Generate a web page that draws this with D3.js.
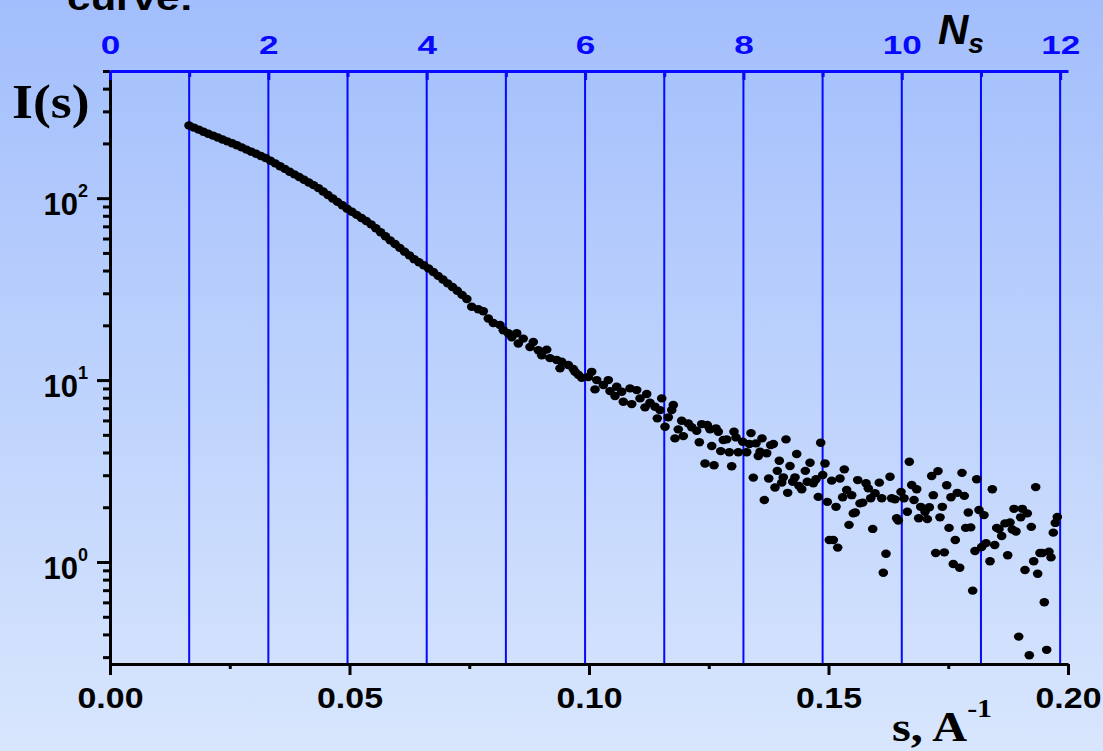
<!DOCTYPE html>
<html><head><meta charset="utf-8">
<script src="https://cdn.jsdelivr.net/npm/d3@7"></script>
<style>html,body{margin:0;padding:0;overflow:hidden;background:#c0d4fc;} svg{display:block;}</style>
</head><body>
<svg id="chart" width="1103" height="751"></svg>
<script>
// ---- data ----
const lowAngleS = [0.0165,0.0175,0.0185,0.0195,0.0205,0.0215,0.0225,0.0235,0.0245,0.0255,0.0265,0.0275,0.0285,0.0295,0.0305,0.0315,0.0325,0.0335,0.0345,0.0355,0.0365,0.0375,0.0385,0.0395,0.0405,0.0415,0.0425,0.0435,0.0445,0.0455,0.0465,0.0475,0.0485,0.0495,0.0505,0.0515,0.0525,0.0535,0.0545,0.0555,0.0565,0.0575,0.0585,0.0595,0.0605,0.0615,0.0625,0.0635,0.0645,0.0655,0.0665,0.0675,0.0685,0.0695,0.0705,0.0715,0.0725,0.0735,0.0745];
const lowAngleI = [250.9,244.3,238.2,231.9,226.1,220.8,215.6,210.2,205.2,200.3,195.3,190.2,184.9,180.1,175.4,170.6,166.1,160.7,155.3,149.9,144.9,139.8,135.1,130.6,126.2,122.0,117.9,113.6,108.7,104.1,99.6,95.4,91.4,87.5,84.2,80.9,77.8,74.9,71.8,68.3,64.9,61.8,58.6,56.0,53.3,50.8,48.5,46.2,44.4,42.8,41.1,39.3,37.4,35.7,34.0,32.5,31.0,29.4,27.9];

const highAngleS = [0.07551,0.07689,0.07793,0.07898,0.08002,0.08142,0.08211,0.08315,0.08386,0.08491,0.08524,0.08628,0.08768,0.08837,0.08942,0.09013,0.09117,0.09186,0.09326,0.09395,0.09430,0.09568,0.09672,0.09708,0.09777,0.09848,0.09985,0.10056,0.10125,0.10161,0.10299,0.10403,0.10438,0.10543,0.10578,0.10683,0.10716,0.10856,0.10892,0.10996,0.11065,0.11169,0.11205,0.11273,0.11378,0.11426,0.11482,0.11518,0.11587,0.11656,0.11727,0.11760,0.11795,0.11864,0.11935,0.11969,0.12073,0.12144,0.12248,0.12303,0.12353,0.12422,0.12470,0.12526,0.12562,0.12610,0.12651,0.12699,0.12750,0.12804,0.12875,0.12929,0.12979,0.13027,0.13069,0.13117,0.13209,0.13292,0.13347,0.13382,0.13430,0.13486,0.13534,0.13570,0.13612,0.13660,0.13710,0.13752,0.13793,0.13848,0.13883,0.13931,0.13973,0.14023,0.14056,0.14113,0.14148,0.14196,0.14253,0.14301,0.14336,0.14384,0.14441,0.14516,0.14558,0.14614,0.14683,0.14739,0.14787,0.14837,0.14879,0.14927,0.14975,0.15017,0.15100,0.15067,0.15157,0.15192,0.15240,0.15296,0.15330,0.15380,0.15428,0.15484,0.15518,0.15559,0.15610,0.15658,0.15714,0.15783,0.15831,0.15881,0.15923,0.15971,0.16061,0.16111,0.16144,0.16200,0.16284,0.16319,0.16388,0.16424,0.16457,0.16514,0.16576,0.16645,0.16687,0.16737,0.16785,0.16841,0.16883,0.16925,0.17015,0.17063,0.17104,0.17154,0.17188,0.17238,0.17286,0.17328,0.17376,0.17418,0.17468,0.17516,0.17557,0.17605,0.17647,0.17689,0.17739,0.17787,0.17835,0.17864,0.17919,0.17969,0.18010,0.18058,0.18094,0.18142,0.18198,0.18246,0.18288,0.18372,0.18420,0.18470,0.18511,0.18559,0.18616,0.18685,0.18741,0.18789,0.18837,0.18873,0.18914,0.18971,0.19013,0.19046,0.19102,0.19150,0.19192,0.19234,0.19284,0.19326,0.19367,0.19415,0.19463,0.19505,0.19555,0.19603,0.19645,0.19693,0.19735,0.19777];
const highAngleI = [25.3,24.5,23.9,21.8,20.6,20.1,18.8,18.1,17.2,18.1,15.9,16.9,15.2,16.2,14.6,13.7,14.7,13.2,12.9,11.6,12.6,12.1,11.5,11.1,10.7,10.3,10.4,11.1,8.89,10.0,9.39,10.0,8.70,8.17,9.19,8.62,7.60,9.00,7.38,8.81,7.93,7.08,8.38,7.50,7.13,6.16,6.84,7.93,5.54,6.24,6.84,7.29,4.78,5.36,5.98,4.92,5.78,5.50,5.27,4.55,5.73,3.48,5.66,5.36,4.34,3.40,5.43,5.20,4.07,4.68,4.72,4.01,3.36,5.20,4.84,4.01,4.58,4.01,4.45,5.11,2.91,4.49,3.82,4.04,4.78,2.19,3.96,2.88,4.39,4.45,2.57,3.17,3.60,2.73,2.92,4.72,2.40,3.37,2.76,2.92,3.92,2.62,2.51,3.17,2.76,3.51,2.71,2.85,2.28,4.52,3.01,3.48,2.14,1.32,1.32,2.80,2.01,1.20,2.88,2.27,3.23,2.49,1.60,2.33,1.85,1.87,2.82,2.10,2.12,2.71,2.54,2.24,1.52,2.39,2.73,2.24,0.873,1.11,2.94,2.24,2.21,1.74,1.69,2.43,2.24,1.89,3.56,2.65,2.19,2.51,1.74,2.01,1.89,1.72,2.00,2.97,2.33,1.12,3.16,1.76,2.01,1.13,2.64,1.54,2.27,0.975,1.32,2.40,0.930,3.09,2.31,1.54,1.87,1.55,0.696,1.15,2.85,1.93,1.21,1.81,1.27,1.01,2.51,1.24,1.54,1.52,1.39,1.63,1.09,1.65,1.51,1.96,1.47,0.389,1.76,1.96,0.904,1.85,0.307,1.56,1.01,2.58,0.862,1.12,1.12,0.601,0.329,1.14,1.06,1.45,1.64,1.77];

const sDomain = [0, 0.20];
const iDomain = [0.275, 500];
const sTicks = [0, 0.05, 0.10, 0.15, 0.20];
const sMinorTicks = [0.025, 0.075, 0.125, 0.175];
const iMajorTicks = [1, 10, 100];
const iMinorTicks = [0.3,0.4,0.5,0.6,0.7,0.8,0.9,2,3,4,5,6,7,8,9,20,30,40,50,60,70,80,90,200,300,400,500];
const shannonStep = 0.01653;          // s spacing of one Shannon channel
const nsTicks = [0,1,2,3,4,5,6,7,8,9,10,11,12];
const nsLines = [1,2,3,4,5,6,7,8,9,10,11,12];

// ---- layout ----
const W = 1103, H = 751;
const plotLeft = 110, plotRight = 1068, plotTop = 71, plotBottom = 664;
const BLUE = "#0808ff";

const svg = d3.select("#chart");
const defs = svg.append("defs");
const grad = defs.append("linearGradient").attr("id","bg").attr("x1",0).attr("y1",0).attr("x2",0).attr("y2",1);
grad.append("stop").attr("offset","0%").attr("stop-color","#a2befc");
grad.append("stop").attr("offset","100%").attr("stop-color","#d8e6fd");
svg.append("rect").attr("width",W).attr("height",H).attr("fill","url(#bg)");

const x = d3.scaleLinear().domain(sDomain).range([plotLeft, plotRight]);
const y = d3.scaleLog().domain(iDomain).range([plotBottom, plotTop]);
const n = d3.scaleLinear().domain([0, sDomain[1]/shannonStep]).range([plotLeft, plotRight]);

// Shannon channel lines
svg.append("g").selectAll("line").data(nsLines).join("line")
  .attr("x1", d => n(d)).attr("x2", d => n(d))
  .attr("y1", plotTop).attr("y2", plotBottom)
  .attr("stroke", BLUE).attr("stroke-width", 2);

// data points
const pts = lowAngleS.map((s,i)=>({s, I: lowAngleI[i]}))
  .concat(highAngleS.map((s,i)=>({s, I: highAngleI[i]})));
svg.append("g").selectAll("ellipse").data(pts).join("ellipse")
  .attr("cx", d => x(d.s)).attr("cy", d => y(d.I))
  .attr("rx", 4.8).attr("ry", 4.2).attr("fill", "#000");

// bottom axis
const gx = svg.append("g").attr("transform", `translate(0,${plotBottom})`)
  .call(d3.axisBottom(x).tickValues(sTicks).tickFormat(d3.format(".2f")).tickSize(11).tickSizeOuter(0));
gx.select(".domain").attr("stroke","#000").attr("stroke-width",3);
gx.selectAll(".tick line").attr("stroke","#000").attr("stroke-width",3);
gx.selectAll(".tick text")
  .attr("y", 44).attr("dy", null)
  .attr("transform","scale(1.13,1)")
  .attr("font-family","'Liberation Sans', Arial, sans-serif")
  .attr("font-weight","bold").attr("font-size",30).attr("fill","#000");
const gxm = svg.append("g").attr("transform", `translate(0,${plotBottom})`)
  .call(d3.axisBottom(x).tickValues(sMinorTicks).tickFormat("").tickSize(5).tickSizeOuter(0));
gxm.select(".domain").remove();
gxm.selectAll(".tick line").attr("stroke","#000").attr("stroke-width",3);

// left axis
const gy = svg.append("g").attr("transform", `translate(${plotLeft},0)`)
  .call(d3.axisLeft(y).tickValues(iMajorTicks).tickSize(13).tickSizeOuter(0).tickFormat(""));
gy.select(".domain").attr("stroke","#000").attr("stroke-width",3);
gy.selectAll(".tick line").attr("stroke","#000").attr("stroke-width",3);
gy.selectAll(".tick text").each(function(d){
  const t = d3.select(this);
  t.text(null).attr("x",-22).attr("y",16).attr("dy",null)
    .attr("text-anchor","end")
    .attr("font-family","'Liberation Sans', Arial, sans-serif")
    .attr("font-weight","bold").attr("fill","#000");
  t.append("tspan").attr("font-size",31).text("10");
  t.append("tspan").attr("font-size",18).attr("dy",-18).text(Math.round(Math.log10(d)));
});
const gym = svg.append("g").attr("transform", `translate(${plotLeft},0)`)
  .call(d3.axisLeft(y).tickValues(iMinorTicks).tickSize(7).tickSizeOuter(0).tickFormat(""));
gym.select(".domain").remove();
gym.selectAll(".tick line").attr("stroke","#000").attr("stroke-width",3);

// top Shannon axis
const gn = svg.append("g").attr("transform", `translate(0,${plotTop})`)
  .call(d3.axisTop(n).tickValues(nsTicks).tickSize(-7).tickSizeOuter(0).tickPadding(17)
    .tickFormat(d => d % 2 === 0 ? d : ""));
gn.select(".domain").attr("stroke",BLUE).attr("stroke-width",3);
gn.selectAll(".tick line").attr("stroke",BLUE).attr("stroke-width",3)
  .attr("y2", d => d % 2 === 0 ? 9 : 6);
gn.selectAll(".tick text")
  .attr("transform","scale(1.35,1)")
  .attr("font-family","'Liberation Sans', Arial, sans-serif")
  .attr("font-weight","bold").attr("font-size",26).attr("fill",BLUE);

// titles
svg.append("text").attr("transform","translate(67,10) scale(1.17,1)")
  .attr("font-family","'Liberation Sans', Arial, sans-serif").attr("font-weight","bold")
  .attr("font-size",36).attr("fill","#000").text("curve:");

svg.append("text").attr("transform","translate(12,118) scale(1.12,1)")
  .attr("font-family","'Liberation Serif', 'Times New Roman', serif").attr("font-weight","bold")
  .attr("font-size",48).attr("fill","#000").text("I(s)");

const xl = svg.append("text").attr("transform","translate(892,741) scale(1.15,1)")
  .attr("font-family","'Liberation Serif', 'Times New Roman', serif").attr("font-weight","bold")
  .attr("fill","#000");
xl.append("tspan").attr("font-size",42).text("s, A");
xl.append("tspan").attr("font-size",26).attr("dy",-24).text("-1");

const nl = svg.append("text").attr("x",938).attr("y",44)
  .attr("font-family","'Liberation Sans', Arial, sans-serif").attr("font-weight","bold")
  .attr("font-style","italic").attr("fill","#000");
nl.append("tspan").attr("font-size",42).text("N");
nl.append("tspan").attr("font-size",28).attr("dy",9).text("s");
</script>
</body></html>
